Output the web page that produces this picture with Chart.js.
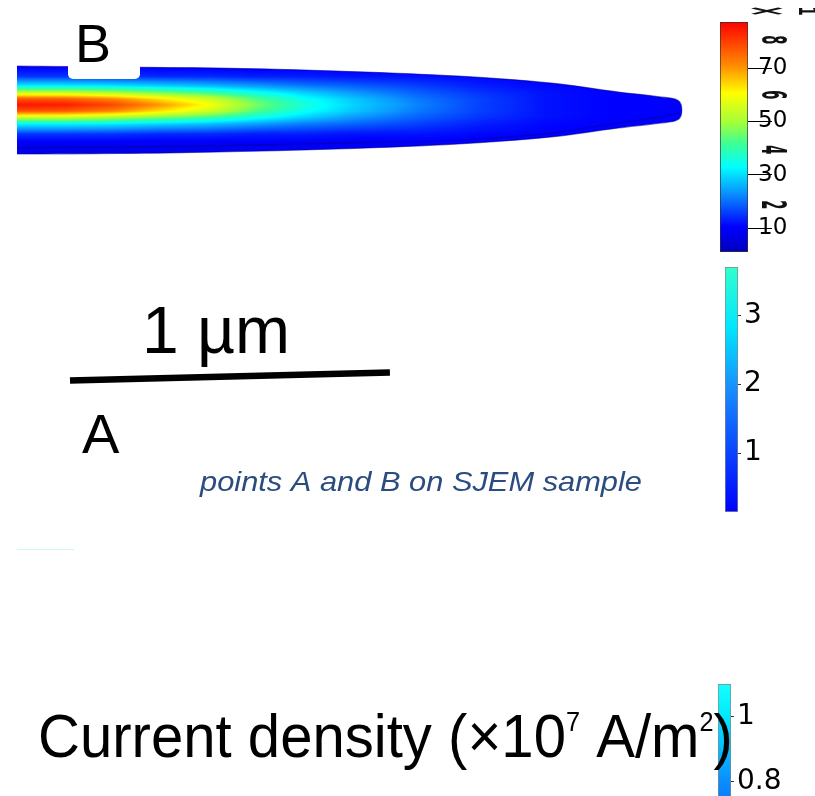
<!DOCTYPE html>
<html>
<head>
<meta charset="utf-8">
<title>Current density</title>
<script src="https://cdn.jsdelivr.net/npm/chart.js@4.4.1/dist/chart.umd.min.js"></script>
<style>
  html, body { margin: 0; padding: 0; background: #fff; }
  #page { position: relative; width: 815px; height: 796px; overflow: hidden; }
  canvas { position: absolute; }
  #fieldChart { left: 0; top: 0; z-index: 5; }
  #barTop { left: 700px; top: 0; }
  #barMid { left: 700px; top: 255px; }
  #barLow { left: 700px; top: 670px; }
</style>
</head>
<body>
<div id="page">
  <canvas id="barTop" width="115" height="260"></canvas>
  <canvas id="barMid" width="115" height="270"></canvas>
  <canvas id="barLow" width="115" height="200"></canvas>
  <canvas id="fieldChart" width="815" height="796"></canvas>
</div>
<script>
// needle outline (um): distance from the left cut, half-width above / below the axis
const edgeX      = [0, 0.32, 0.63, 1.0, 1.38, 1.67, 1.88, 2.01, 2.066, 2.078];
const edgeTop    = [0.1375, 0.134, 0.131, 0.122, 0.106, 0.084, 0.056, 0.041, 0.030, 0];
const edgeBottom = [-0.1375, -0.136, -0.131, -0.122, -0.106, -0.084, -0.056, -0.041, -0.030, 0];

// lower rim of the flat face
const rimX = [0, 0.63, 1.0, 1.38, 1.67, 1.88, 2.01, 2.07];
const rimY = [-0.118, -0.112, -0.103, -0.094, -0.072, -0.040, -0.022, -0.008];

// current density samples, one column per fieldX, rows follow fieldY
const fieldX = [0, 0.15, 0.3, 0.45, 0.6, 0.75, 0.9, 1.05, 1.25, 1.45, 1.65, 1.85, 2.08];
const fieldY = [0.14, 0.105, 0.075, 0.053, 0.034, 0.016, -0.003, -0.022, -0.044, -0.075, -0.105, -0.14];
const fieldJ = [
  [9, 15, 32, 55, 78, 85, 78, 55, 32, 15, 9, 7],
  [9, 15, 32, 55, 77, 84, 77, 55, 32, 15, 9, 7],
  [9, 15, 31, 52, 72, 79, 72, 52, 31, 15, 9, 7],
  [9, 14, 29, 47, 63, 70, 63, 47, 29, 14, 9, 7.5],
  [9, 14, 27, 42, 55, 60, 55, 42, 27, 14, 9, 7.5],
  [9, 13, 24, 35, 43, 46, 43, 35, 24, 13, 9.5, 8],
  [9.5, 13, 21, 29, 34, 36, 34, 29, 21, 13, 9.5, 8],
  [9.5, 12, 19, 24, 28, 29, 28, 24, 19, 12, 9.5, 8],
  [10, 12, 16, 19, 21, 22, 21, 19, 16, 12, 10, 8.5],
  [10, 11, 13, 15, 16, 16, 16, 15, 13, 11, 10, 8.5],
  [10, 10.5, 11, 12, 12, 12, 12, 12, 11, 10.5, 10, 9],
  [10, 10, 10.5, 10.5, 10.5, 10.5, 10.5, 10.5, 10.5, 10, 10, 9.5],
  [10, 10, 10, 10, 10, 10, 10, 10, 10, 10, 10, 9.5]
];

// colour bar scales
const topRange = [1, 87.3];
const topTicks = [10, 30, 50, 70];
const digitRange = [0.29, 8.65];
const digitTicks = [2, 4, 6, 8];
const midRange = [0.145, 3.70];
const midTicks = [1, 2, 3];
const lowRange = [0.529, 1.1015];
const lowTicks = [0.8, 1];

const rainbowStops = [
  [0.00, 0, 0, 190], [0.11, 0, 0, 255], [0.26, 10, 150, 255], [0.37, 0, 255, 255],
  [0.47, 60, 255, 150], [0.56, 160, 255, 60], [0.69, 255, 255, 0], [0.81, 255, 140, 0],
  [1.00, 255, 0, 0]
];
const midStops = [[0, 'rgb(0,0,255)'], [0.25, 'rgb(10,70,255)'], [0.5, 'rgb(25,140,255)'], [0.75, 'rgb(0,230,255)'], [1, 'rgb(50,255,205)']];
const lowStops = [[0, 'rgb(10,60,255)'], [0.47, 'rgb(10,140,255)'], [0.82, 'rgb(0,232,255)'], [1, 'rgb(20,255,255)']];

const sans = '"Liberation Sans", Arial, sans-serif';
const deja = '"DejaVu Sans", sans-serif';

function rainbow(v) {
  const t = Math.min(1, Math.max(0, (v - topRange[0]) / (topRange[1] - topRange[0])));
  for (let i = 1; i < rainbowStops.length; i++) {
    const a = rainbowStops[i - 1], b = rainbowStops[i];
    if (t <= b[0]) {
      const f = (t - a[0]) / (b[0] - a[0]);
      return [a[1] + f * (b[1] - a[1]), a[2] + f * (b[2] - a[2]), a[3] + f * (b[3] - a[3])];
    }
  }
  const last = rainbowStops[rainbowStops.length - 1];
  return [last[1], last[2], last[3]];
}

function findCell(arr, v, descending) {
  const n = arr.length;
  for (let i = 0; i < n - 1; i++) {
    const lo = arr[i], hi = arr[i + 1];
    const inside = descending ? (v <= lo && v >= hi) : (v >= lo && v <= hi);
    if (inside) return [i, (v - lo) / (hi - lo)];
  }
  if (descending) return v > arr[0] ? [0, 0] : [n - 2, 1];
  return v < arr[0] ? [0, 0] : [n - 2, 1];
}

function sampleField(x, y) {
  const [i, fx] = findCell(fieldX, x, false);
  const [j, fy] = findCell(fieldY, y, true);
  const a = fieldJ[i][j], b = fieldJ[i + 1][j];
  const c = fieldJ[i][j + 1], d = fieldJ[i + 1][j + 1];
  return (a * (1 - fx) + b * fx) * (1 - fy) + (c * (1 - fx) + d * fx) * fy;
}

function outlinePoints() {
  const pts = edgeX.map((x, i) => ({ x, y: edgeTop[i] }));
  for (let i = edgeX.length - 2; i >= 0; i--) pts.push({ x: edgeX[i], y: edgeBottom[i] });
  return pts;
}

// trace the outline with the same bezier control points the line element uses
function traceOutline(ctx, chart) {
  const meta = chart.getDatasetMeta(0);
  if (meta.dataset && typeof meta.dataset.updateControlPoints === 'function') {
    meta.dataset.updateControlPoints(chart.chartArea, 'x');
  }
  const pts = meta.data;
  ctx.beginPath();
  ctx.moveTo(pts[0].x, pts[0].y);
  for (let i = 1; i < pts.length; i++) {
    const p = pts[i - 1], q = pts[i];
    if (p.cp2x !== undefined && q.cp1x !== undefined) {
      ctx.bezierCurveTo(p.cp2x, p.cp2y, q.cp1x, q.cp1y, q.x, q.y);
    } else {
      ctx.lineTo(q.x, q.y);
    }
  }
  ctx.closePath();
}

const heatField = {
  id: 'heatField',
  beforeDatasetsDraw(chart) {
    const { ctx, chartArea, scales } = chart;
    const w = Math.ceil(chartArea.width), h = Math.ceil(chartArea.height);
    const off = document.createElement('canvas');
    off.width = w; off.height = h;
    const octx = off.getContext('2d');
    const img = octx.createImageData(w, h);
    for (let j = 0; j < h; j++) {
      const yv = scales.y.getValueForPixel(chartArea.top + j + 0.5);
      for (let i = 0; i < w; i++) {
        const xv = scales.x.getValueForPixel(chartArea.left + i + 0.5);
        const c = rainbow(sampleField(xv, yv));
        const k = (j * w + i) * 4;
        img.data[k] = c[0]; img.data[k + 1] = c[1]; img.data[k + 2] = c[2]; img.data[k + 3] = 255;
      }
    }
    octx.putImageData(img, 0, 0);
    ctx.save();
    traceOutline(ctx, chart);
    ctx.clip();
    ctx.drawImage(off, chartArea.left, chartArea.top);
    ctx.restore();
  }
};

function drawTitle(ctx) {
  const parts = [
    ['Current density (\u00d710', '62px ' + sans, 0],
    ['7', '27px ' + sans, -26],
    [' A/m', '62px ' + sans, 0],
    ['2', '27px ' + sans, -26],
    [')', '62px ' + sans, 0]
  ];
  ctx.save();
  ctx.translate(38, 757);
  ctx.scale(0.937, 1);
  ctx.fillStyle = '#000';
  ctx.textBaseline = 'alphabetic';
  let x = 0;
  parts.forEach(([s, font, dy]) => {
    ctx.font = font;
    ctx.fillText(s, x, dy);
    x += ctx.measureText(s).width;
  });
  ctx.restore();
}

// text stretched to span a given width
function fitText(ctx, text, x, y, width) {
  const w = ctx.measureText(text).width;
  ctx.save();
  ctx.translate(x, y);
  ctx.scale(width / w, 1);
  ctx.fillText(text, 0, 0);
  ctx.restore();
}

const figureText = {
  id: 'figureText',
  afterDraw(chart) {
    const { ctx, scales } = chart;
    ctx.save();
    ctx.textBaseline = 'alphabetic';
    ctx.textAlign = 'left';

    // label B on its white tab
    ctx.fillStyle = '#fff';
    ctx.beginPath();
    ctx.roundRect(68, 18, 72, 61, 5);
    ctx.fill();
    ctx.fillStyle = '#000';
    ctx.font = '54px ' + sans;
    ctx.fillText('B', 75, 62);

    // 1 um scale bar, length taken from the x scale
    const len = scales.x.getPixelForValue(1) - scales.x.getPixelForValue(0);
    const ang = Math.atan2(-8, 321);
    ctx.strokeStyle = '#000';
    ctx.lineWidth = 6.5;
    ctx.beginPath();
    ctx.moveTo(70, 380.5);
    ctx.lineTo(70 + len * Math.cos(ang), 380.5 + len * Math.sin(ang));
    ctx.stroke();
    ctx.font = '66px ' + sans;
    ctx.fillText('1 \u00b5m', 142, 353);

    ctx.font = '56px ' + sans;
    ctx.fillText('A', 82, 453);

    ctx.fillStyle = '#2b4c7e';
    ctx.font = 'italic 28px ' + sans;
    fitText(ctx, 'points A and B on SJEM sample', 200, 491, 442);

    ctx.strokeStyle = 'rgba(120, 230, 235, 0.35)';
    ctx.lineWidth = 1;
    ctx.beginPath();
    ctx.moveTo(17, 549.5);
    ctx.lineTo(74, 549.5);
    ctx.stroke();

    drawTitle(ctx);
    ctx.restore();
  }
};

new Chart(document.getElementById('fieldChart'), {
  type: 'scatter',
  data: {
    datasets: [
      {
        label: 'outline',
        data: outlinePoints(),
        showLine: true,
        borderColor: 'rgba(0, 0, 150, 0.55)',
        borderWidth: 1.1,
        pointRadius: 0,
        tension: 0.35
      },
      {
        label: 'rim',
        data: rimX.map((x, i) => ({ x, y: rimY[i] })),
        showLine: true,
        borderColor: 'rgba(0, 0, 120, 0.4)',
        borderWidth: 1.4,
        pointRadius: 0,
        tension: 0.35
      }
    ]
  },
  options: {
    responsive: false,
    animation: false,
    events: [],
    layout: { padding: { left: 17, right: 132.4, top: 58.8, bottom: 634.8 } },
    scales: {
      x: { type: 'linear', display: false, min: 0, max: 2.08 },
      y: { type: 'linear', display: false, min: -0.16, max: 0.16 }
    },
    plugins: { legend: { display: false }, tooltip: { enabled: false } }
  },
  plugins: [heatField, figureText]
});

function gradientFill(stops) {
  return (c) => {
    const area = c.chart.chartArea;
    if (!area) return '#00f';
    const g = c.chart.ctx.createLinearGradient(0, area.bottom, 0, area.top);
    stops.forEach(([t, col]) => g.addColorStop(t, col));
    return g;
  };
}

function colorbar(id, range, ticks, stops, cfg) {
  const scales = {
    x: { display: false },
    y: {
      position: 'right',
      min: range[0],
      max: range[1],
      afterBuildTicks: (s) => { s.ticks = ticks.map(v => ({ value: v })); },
      afterFit: (s) => { s.width = cfg.axisWidth; s.paddingTop = 0; s.paddingBottom = 0; },
      border: { display: false },
      grid: { drawOnChartArea: false, drawTicks: true, tickLength: cfg.tickLength, color: cfg.tickColor, lineWidth: 1 },
      ticks: { color: '#000', padding: cfg.padding, font: { family: deja, size: cfg.fontSize }, callback: v => String(v) }
    }
  };
  Object.assign(scales, cfg.extraScales || {});
  return new Chart(document.getElementById(id), {
    type: 'bar',
    data: {
      labels: [''],
      datasets: [{
        data: [[range[0], range[1]]],
        backgroundColor: gradientFill(stops),
        borderColor: cfg.border,
        borderWidth: 1,
        borderSkipped: false,
        categoryPercentage: 1,
        barPercentage: 1
      }]
    },
    options: {
      responsive: false,
      animation: false,
      events: [],
      layout: { padding: cfg.pad },
      scales,
      plugins: { legend: { display: false }, tooltip: { enabled: false } }
    },
    plugins: cfg.plugins || []
  });
}

// glyphs turned on their side and squashed
function drawSideways(ctx, text, x, y, sx, sy) {
  ctx.save();
  ctx.translate(x, y);
  ctx.scale(sx, sy);
  ctx.rotate(Math.PI / 2);
  ctx.fillText(text, 0, 0);
  ctx.restore();
}

const sidewaysDigits = {
  id: 'sidewaysDigits',
  afterDraw(chart) {
    const { ctx } = chart;
    const s = chart.scales.yDigits;
    ctx.save();
    ctx.fillStyle = '#111';
    ctx.font = 'bold 22px ' + deja;
    ctx.textAlign = 'center';
    ctx.textBaseline = 'middle';
    digitTicks.forEach(v => drawSideways(ctx, String(v), 71, s.getPixelForValue(v), 1.55, 0.6));
    drawSideways(ctx, '\u00d7', 64, 11, 2.4, 0.55);
    drawSideways(ctx, '1', 105, 11, 1.1, 0.6);
    ctx.restore();
  }
};

colorbar('barTop', topRange, topTicks, rainbowStops.map(s => [s[0], `rgb(${s[1]},${s[2]},${s[3]})`]), {
  axisWidth: 67, tickLength: 24, padding: -14, fontSize: 23, tickColor: '#000', border: '#333',
  pad: { left: 20, top: 22, right: 0, bottom: 8 },
  extraScales: { yDigits: { position: 'right', display: false, min: digitRange[0], max: digitRange[1] } },
  plugins: [sidewaysDigits]
});

colorbar('barMid', midRange, midTicks, midStops, {
  axisWidth: 77, tickLength: 3, padding: 3, fontSize: 28, tickColor: '#333', border: '#888',
  pad: { left: 25, top: 12, right: 0, bottom: 13 }
});

colorbar('barLow', lowRange, lowTicks, lowStops, {
  axisWidth: 84, tickLength: 3, padding: 3, fontSize: 28, tickColor: '#333', border: '#888',
  pad: { left: 18, top: 14, right: 0, bottom: 0 }
});
</script>
</body>
</html>
